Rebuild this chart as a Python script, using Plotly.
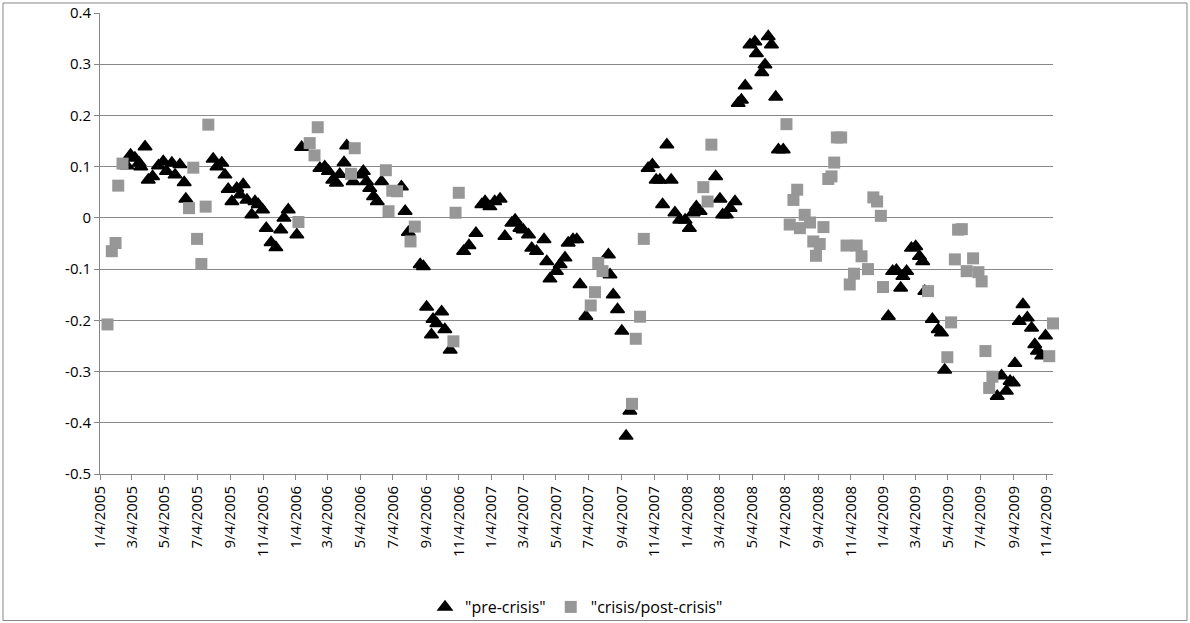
import plotly.graph_objects as go

# ---- data ----
pre_dates = [
    "2005-02-23", "2005-03-02", "2005-03-10", "2005-03-18", "2005-03-21", "2005-03-29", "2005-04-04",
    "2005-04-12", "2005-04-23", "2005-05-02", "2005-05-08", "2005-05-18", "2005-05-24", "2005-06-02",
    "2005-06-10", "2005-06-13", "2005-08-03", "2005-08-10", "2005-08-19", "2005-08-25", "2005-08-31",
    "2005-09-07", "2005-09-16", "2005-09-22", "2005-09-28", "2005-10-05", "2005-10-14", "2005-10-20",
    "2005-10-26", "2005-11-03", "2005-11-10", "2005-11-19", "2005-11-28", "2005-12-07", "2005-12-13",
    "2005-12-21", "2006-01-06", "2006-01-15", "2006-02-18", "2006-02-27", "2006-03-06", "2006-03-14",
    "2006-03-21", "2006-03-27", "2006-04-04", "2006-04-09", "2006-04-21", "2006-05-07", "2006-05-10",
    "2006-05-16", "2006-05-22", "2006-05-29", "2006-06-05", "2006-06-13", "2006-07-20", "2006-07-27",
    "2006-08-02", "2006-08-24", "2006-08-30", "2006-09-05", "2006-09-14", "2006-09-17", "2006-09-24",
    "2006-10-03", "2006-10-09", "2006-10-19", "2006-11-13", "2006-11-23", "2006-12-06", "2006-12-17",
    "2006-12-23", "2007-01-01", "2007-01-10", "2007-01-20", "2007-01-29", "2007-02-11", "2007-02-17",
    "2007-02-26", "2007-03-04", "2007-03-14", "2007-03-20", "2007-03-29", "2007-04-12", "2007-04-17",
    "2007-04-23", "2007-05-05", "2007-05-12", "2007-05-21", "2007-05-27", "2007-06-05", "2007-06-12",
    "2007-06-18", "2007-06-29", "2007-08-10", "2007-08-13", "2007-08-19", "2007-08-27", "2007-09-04",
    "2007-09-12", "2007-09-19", "2007-10-23", "2007-10-31", "2007-11-07", "2007-11-14", "2007-11-19",
    "2007-11-27", "2007-12-05", "2007-12-12", "2007-12-21", "2007-12-31", "2008-01-08", "2008-01-15",
    "2008-01-21", "2008-01-28", "2008-02-26", "2008-03-05", "2008-03-10", "2008-03-17", "2008-03-24",
    "2008-04-02", "2008-04-08", "2008-04-14", "2008-04-21", "2008-04-30", "2008-05-09", "2008-05-12",
    "2008-05-22", "2008-05-28", "2008-06-03", "2008-06-09", "2008-06-17", "2008-06-22", "2008-07-01",
    "2009-01-13", "2009-01-21", "2009-01-28", "2009-02-05", "2009-02-09", "2009-02-16", "2009-02-25",
    "2009-03-05", "2009-03-12", "2009-03-18", "2009-03-22", "2009-04-05", "2009-04-16", "2009-04-22",
    "2009-04-28", "2009-08-04", "2009-08-12", "2009-08-21", "2009-08-28", "2009-09-03", "2009-09-06",
    "2009-09-14", "2009-09-21", "2009-09-29", "2009-10-07", "2009-10-13", "2009-10-18", "2009-10-26",
    "2009-11-02",
]
pre_values = [
    0.102, 0.123, 0.117, 0.107, 0.100, 0.139, 0.074,
    0.081, 0.102, 0.110, 0.091, 0.107, 0.084, 0.104,
    0.069, 0.037, 0.115, 0.100, 0.107, 0.084, 0.056,
    0.032, 0.058, 0.045, 0.065, 0.035, 0.006, 0.032,
    0.026, 0.016, -0.020, -0.048, -0.058, -0.023, 0.000,
    0.016, -0.033, 0.138, 0.097, 0.100, 0.091, 0.074,
    0.068, 0.085, 0.108, 0.141, 0.071, 0.084, 0.091,
    0.071, 0.058, 0.042, 0.032, 0.071, 0.061, 0.013,
    -0.028, -0.091, -0.095, -0.174, -0.228, -0.198, -0.206,
    -0.183, -0.218, -0.258, -0.065, -0.054, -0.030, 0.026,
    0.032, 0.022, 0.032, 0.037, -0.036, -0.010, -0.004,
    -0.020, -0.023, -0.033, -0.059, -0.065, -0.042, -0.085,
    -0.119, -0.104, -0.091, -0.078, -0.049, -0.042, -0.042,
    -0.130, -0.192, -0.072, -0.111, -0.150, -0.179, -0.221,
    -0.426, -0.377, 0.097, 0.104, 0.074, 0.074, 0.026,
    0.143, 0.074, 0.010, -0.004, -0.004, -0.020, 0.010,
    0.022, 0.013, 0.081, 0.037, 0.006, 0.006, 0.019,
    0.032, 0.224, 0.230, 0.258, 0.338, 0.344, 0.321,
    0.284, 0.299, 0.354, 0.338, 0.236, 0.133, 0.133,
    -0.192, -0.104, -0.102, -0.137, -0.114, -0.104, -0.059,
    -0.056, -0.075, -0.085, -0.143, -0.198, -0.218, -0.224,
    -0.297, -0.348, -0.308, -0.338, -0.319, -0.322, -0.284,
    -0.202, -0.169, -0.195, -0.215, -0.247, -0.260, -0.269,
    -0.230,
]

crisis_dates = [
    "2005-01-18", "2005-01-26", "2005-02-02", "2005-02-07", "2005-02-15", "2005-06-19", "2005-06-27",
    "2005-07-04", "2005-07-12", "2005-07-20", "2005-07-25", "2006-01-09", "2006-01-30", "2006-02-08",
    "2006-02-14", "2006-04-17", "2006-04-24", "2006-06-21", "2006-06-26", "2006-07-03", "2006-07-12",
    "2006-08-06", "2006-08-14", "2006-10-25", "2006-10-29", "2006-11-04", "2007-07-08", "2007-07-16",
    "2007-07-22", "2007-07-30", "2007-09-23", "2007-09-30", "2007-10-08", "2007-10-15", "2008-02-03",
    "2008-02-11", "2008-02-18", "2008-07-07", "2008-07-13", "2008-07-20", "2008-07-27", "2008-08-01",
    "2008-08-10", "2008-08-20", "2008-08-26", "2008-08-31", "2008-09-07", "2008-09-14", "2008-09-23",
    "2008-09-29", "2008-10-04", "2008-10-09", "2008-10-17", "2008-10-27", "2008-11-02", "2008-11-10",
    "2008-11-15", "2008-11-24", "2008-12-06", "2008-12-16", "2008-12-23", "2008-12-30", "2009-01-03",
    "2009-03-28", "2009-05-03", "2009-05-10", "2009-05-17", "2009-05-23", "2009-05-30", "2009-06-08",
    "2009-06-20", "2009-06-30", "2009-07-06", "2009-07-13", "2009-07-20", "2009-07-26", "2009-11-09",
    "2009-11-16",
]
crisis_values = [
    -0.208, -0.065, -0.049, 0.063, 0.106, 0.019, 0.098,
    -0.041, -0.090, 0.022, 0.182, -0.008, 0.146, 0.122,
    0.177, 0.086, 0.136, 0.093, 0.013, 0.053, 0.052,
    -0.046, -0.017, -0.241, 0.010, 0.049, -0.171, -0.145,
    -0.088, -0.104, -0.363, -0.236, -0.193, -0.041, 0.060,
    0.032, 0.143, 0.183, -0.013, 0.035, 0.055, -0.020,
    0.006, -0.009, -0.046, -0.074, -0.051, -0.018, 0.076,
    0.081, 0.108, 0.157, 0.157, -0.054, -0.130, -0.109,
    -0.054, -0.075, -0.100, 0.040, 0.032, 0.004, -0.135,
    -0.143, -0.272, -0.204, -0.081, -0.023, -0.022, -0.104,
    -0.079, -0.106, -0.124, -0.260, -0.332, -0.310, -0.270,
    -0.206,
]

series_names = ['"pre-crisis"', '"crisis/post-crisis"']
y_tick_values = [-0.5, -0.4, -0.3, -0.2, -0.1, 0, 0.1, 0.2, 0.3, 0.4]
y_tick_labels = ["-0.5", "-0.4", "-0.3", "-0.2", "-0.1", "0", "0.1", "0.2", "0.3", "0.4"]
x_start, x_end = "2005-01-04", "2009-11-16"

# ---- figure ----
GRID = "#878787"
FONT = "Open Sans"

fig = go.Figure()
fig.add_trace(go.Scatter(
    x=pre_dates, y=pre_values, mode="markers", name=series_names[0],
    marker=dict(symbol="triangle-up", size=12, color="black",
                line=dict(color="black", width=1.5)),
    cliponaxis=False,
))
fig.add_trace(go.Scatter(
    x=crisis_dates, y=crisis_values, mode="markers", name=series_names[1],
    marker=dict(symbol="square", size=12, color="#979797", line=dict(width=0)),
    cliponaxis=False,
))

fig.update_layout(
    width=1190, height=623,
    margin=dict(l=100, r=137, t=13, b=149, autoexpand=False),
    paper_bgcolor="white", plot_bgcolor="white",
    font=dict(family=FONT, size=15, color="black"),
    showlegend=True,
    legend=dict(orientation="h", x=0.500, xanchor="center", y=-0.2885, yanchor="middle",
                font=dict(family=FONT, size=16, color="black"),
                bgcolor="rgba(0,0,0,0)", itemwidth=30, tracegroupgap=0),
    xaxis=dict(
        type="date", range=[x_start, x_end],
        tick0=x_start, dtick="M2", tickformat="%-m/%-d/%Y", tickangle=-90,
        ticks="outside", ticklen=5, tickcolor=GRID, tickwidth=1,
        showline=True, linecolor=GRID, linewidth=1,
        showgrid=False, zeroline=False,
        tickfont=dict(family=FONT, size=15, color="black"),
    ),
    yaxis=dict(
        range=[-0.5, 0.4], tickmode="array", tickvals=y_tick_values, ticktext=y_tick_labels,
        ticks="outside", ticklen=5, tickcolor=GRID, tickwidth=1,
        showline=True, linecolor=GRID, linewidth=1,
        showgrid=True, gridcolor=GRID, gridwidth=1, zeroline=False,
        tickfont=dict(family=FONT, size=15, color="black"),
    ),
    shapes=[dict(type="rect", xref="paper", yref="paper",
                 x0=-0.1018, x1=1.1406, y0=-0.3178, y1=1.0217,
                 line=dict(color=GRID, width=1), fillcolor="rgba(0,0,0,0)", layer="below")],
)

fig.write_html("out.html")
